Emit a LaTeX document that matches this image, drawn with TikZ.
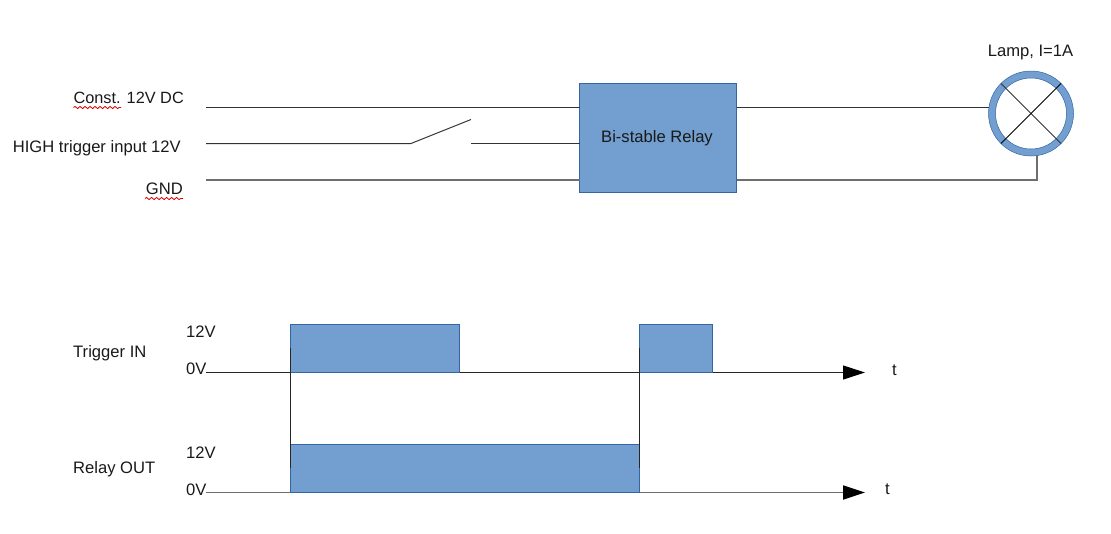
\documentclass[tikz,border=0pt]{standalone}
\usepackage{fontspec}
\setmainfont{Liberation Sans}
\usetikzlibrary{arrows.meta,decorations.pathmorphing,calc}
\definecolor{blockfill}{HTML}{729FCF}
\definecolor{blockline}{HTML}{3465A4}
\definecolor{wire}{HTML}{333333}
\definecolor{wiregray}{HTML}{6E6E6E}
\tikzset{
  x=1pt,y=-1pt,
  lbl/.style={inner sep=0pt,font=\fontsize{16.6}{19}\selectfont,text=black!90},
  lblr/.style={lbl,anchor=base east},
  lbll/.style={lbl,anchor=base west},
  block/.style={fill=blockfill,draw=blockline,line width=1pt,inner sep=0pt,outer sep=0pt,minimum width=#1,anchor=north west},
  wireline/.style={draw=wire,line width=1pt},
  wiregrey/.style={draw=wiregray,line width=1.4pt},
  tick/.style={draw=black!85,line width=1pt},
  axis/.style={draw=black!85,line width=1pt,-{Triangle[length=22pt,width=14pt,color=black,fill=black]}},
  axisgrey/.style={draw=wiregray,line width=1.8pt,-{Triangle[length=22pt,width=14pt,color=black,fill=black]}},
  spell/.style={draw=red!85!black,line width=0.8pt,decorate,decoration={snake,amplitude=1.1pt,segment length=5pt}},
}
\begin{document}
\begin{tikzpicture}
\useasboundingbox (0,0) rectangle (1111,533);
% top labels
\node[lblr,font=\fontsize{16.3}{19}\selectfont] (lconst) at (184,103.5) {Const. 12V DC};
\node[lblr] (lhigh) at (181,152) {HIGH trigger input 12V};
\node[lblr] (lgnd) at (183,194.5) {GND};
\coordinate (c1) at (73.5,107.5); \coordinate (c2) at (121,107.5);
\coordinate (g1) at (145,198.5); \coordinate (g2) at (183,198.5);
\draw[spell] (c1) -- (c2);
\draw[spell] (g1) -- (g2);
% free ends
\coordinate (a1) at (206,107);
\coordinate (a2) at (206,143.5);
\coordinate (a3) at (206,180);
\coordinate (s1) at (411,143.5);
\coordinate (s2) at (471,119.5);
\coordinate (s3) at (471,143.5);
% relay
\node[block=157pt,minimum height=109pt] (relay) at (579.5,83.5) {};
\node[lbl] (relaytxt) at (657,138) {Bi-stable Relay};
\draw[wireline] (a1) -- (a1 -| relay.west);
\draw[wireline] (a2) -- (s1) -- (s2);
\draw[wireline] (s3) -- (s3 -| relay.west);
\draw[wiregrey] (a3) -- (a3 -| relay.west);
% lamp
\node[circle,draw=blockfill,line width=7pt,minimum size=78pt,inner sep=0pt,outer sep=0pt] (lamp) at (1031,113.5) {};
\draw[blockline,line width=0.5pt] (lamp.center) circle[radius=42.5pt];
\draw[blockline,line width=0.5pt] (lamp.center) circle[radius=35.5pt];
\coordinate (x1) at (1001,83.5); \coordinate (x2) at (1061,143.5);
\coordinate (x3) at (1061,83.5); \coordinate (x4) at (1001,143.5);
\draw[wireline] (x1) -- (x2);
\draw[draw=black,line width=1pt] (x3) -- (x4);
\node[lbl] (lamptxt) at (1030.5,52.5) {Lamp, I=1A};
\coordinate (r1) at (989,107);
\coordinate (r2) at (1037,180);
\coordinate (r3) at (1037,155);
\draw[wireline] (relay.east |- r1) -- (r1);
\draw[wiregrey] (relay.east |- r2) -- (r2) -- (r3);
% timing axes
\coordinate (t0) at (206,372.5); \coordinate (t1) at (865,372.5);
\coordinate (o0) at (206,492.5); \coordinate (o1) at (865,492.5);
\draw[axis] (t0) -- (t1);
\draw[axisgrey] (o0) -- (o1);
% pulses
\node[block=169pt,minimum height=48.5pt] (p1) at (290.5,324) {};
\node[block=72.5pt,minimum height=48.5pt] (p2) at (639.5,324) {};
\node[block=349pt,minimum height=48pt] (p3) at (290.5,444.5) {};
% verticals
\coordinate (v1a) at (290.5,348); \coordinate (v1b) at (290.5,468);
\coordinate (v2a) at (639.5,348); \coordinate (v2b) at (639.5,468);
\draw[tick] (v1a) -- (v1b);
\draw[tick] (v2a) -- (v2b);
% timing labels
\node[lbll] (ltrig) at (73,357) {Trigger IN};
\node[lbll] (lrel) at (73,473) {Relay OUT};
\node[lbll] (v12a) at (186,337) {12V};
\node[lbll] (v0a) at (186,374.5) {0V};
\node[lbll] (v12b) at (186,458) {12V};
\node[lbll] (v0b) at (186,495) {0V};
\node[lbll] (ta) at (892,375) {t};
\node[lbll] (tb) at (885,494.5) {t};
\end{tikzpicture}
\end{document}
